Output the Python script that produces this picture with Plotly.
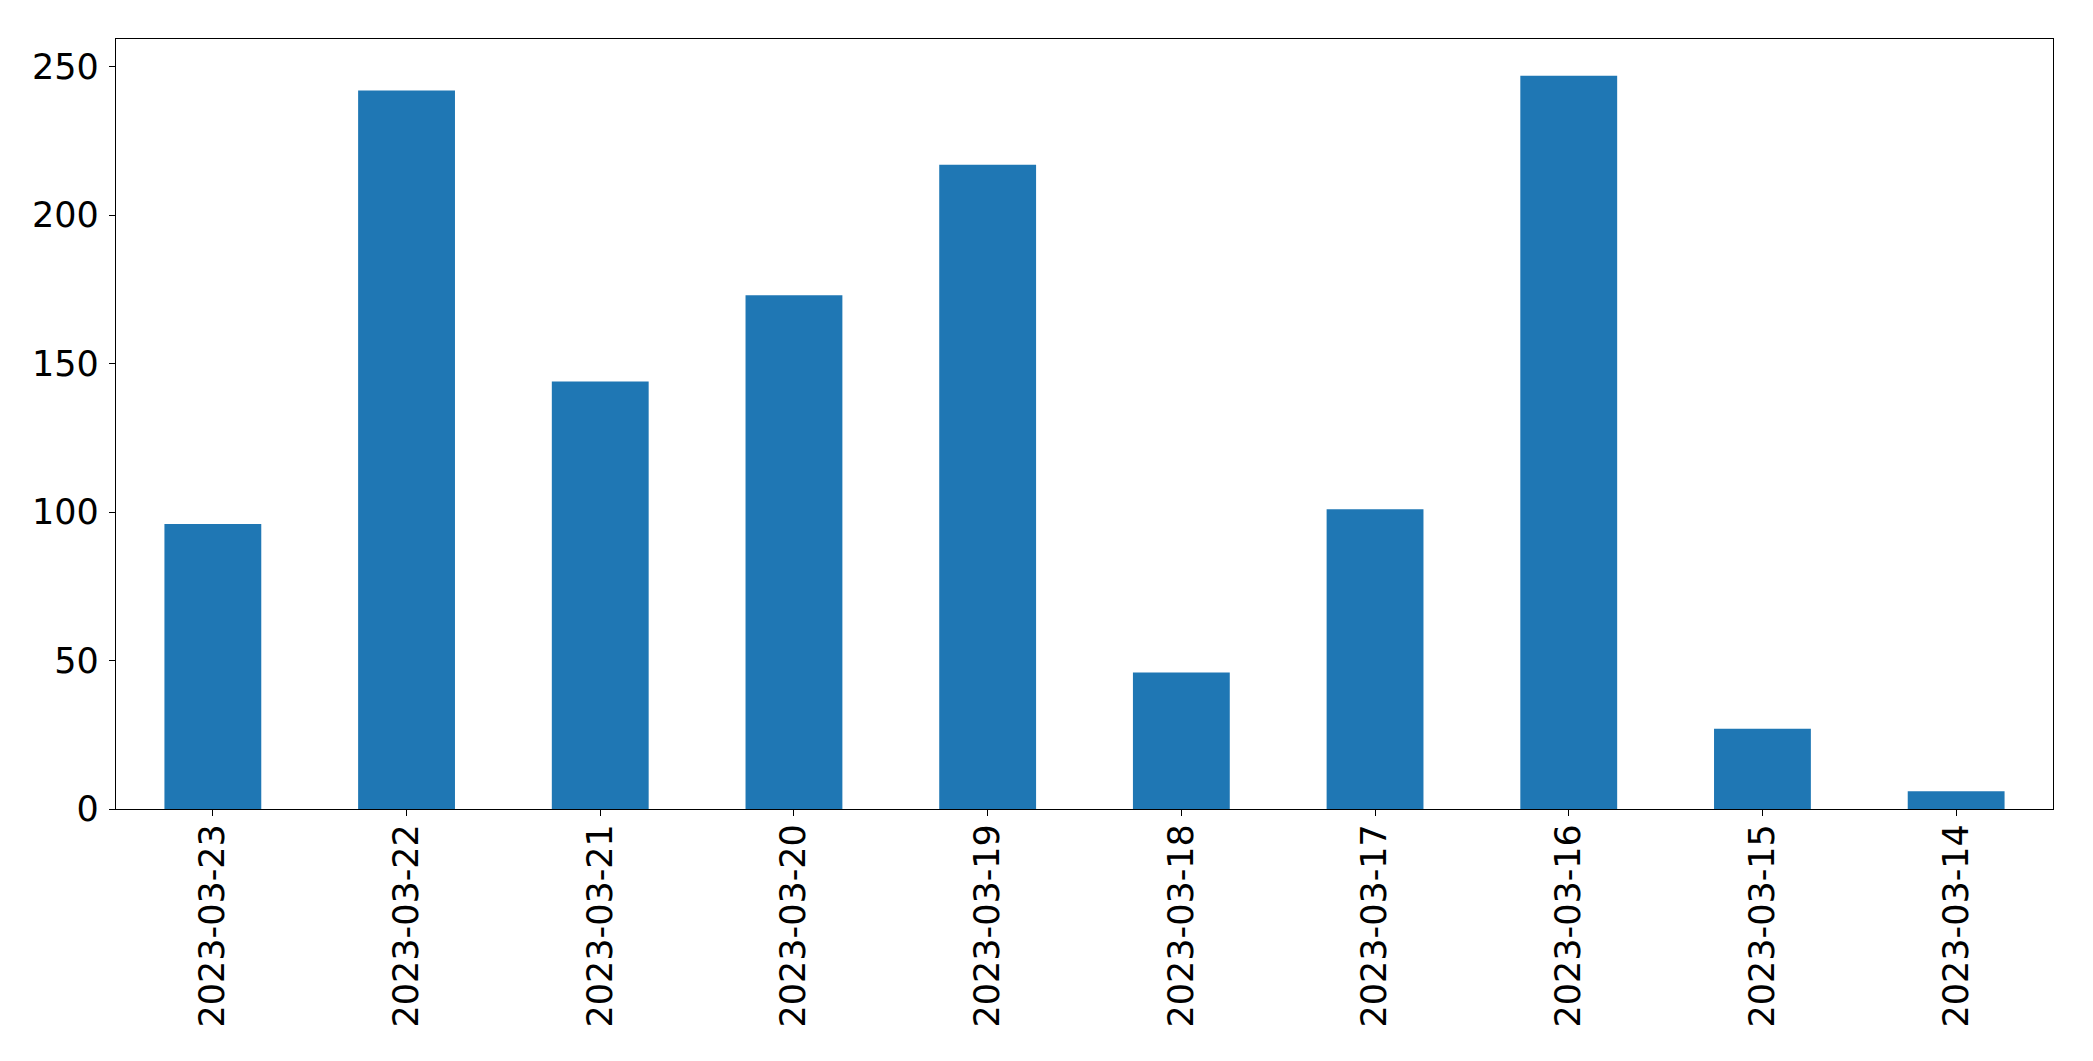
import plotly.graph_objects as go

dates = ["2023-03-23", "2023-03-22", "2023-03-21", "2023-03-20", "2023-03-19",
         "2023-03-18", "2023-03-17", "2023-03-16", "2023-03-15", "2023-03-14"]
counts = [96, 242, 144, 173, 217, 46, 101, 247, 27, 6]
y_ticks = [0, 50, 100, 150, 200, 250]

fig = go.Figure(go.Bar(x=dates, y=counts, marker=dict(color="#1f77b4", line=dict(width=0)),
                       width=0.5))

font = dict(family="DejaVu Sans", size=35, color="black")
fig.update_layout(
    width=2085, height=1053,
    margin=dict(l=108, r=40, t=31, b=252, pad=0),
    paper_bgcolor="white", plot_bgcolor="white",
    showlegend=False,
    font=font,
)
fig.update_xaxes(type="category", range=[-0.5, 9.5], tickangle=-90,
                 showline=True, linecolor="black", linewidth=1.3, mirror=True,
                 ticks="outside", ticklen=6, tickcolor="black", tickwidth=1.3,
                 ticklabelstandoff=-6,
                 showgrid=False, zeroline=False, tickfont=font, automargin=False)
fig.update_yaxes(range=[0, 259.35], tickvals=y_ticks,
                 showline=True, linecolor="black", linewidth=1.3, mirror=True,
                 ticks="outside", ticklen=6, tickcolor="black", tickwidth=1.3,
                 ticklabelstandoff=3,
                 showgrid=False, zeroline=False, tickfont=font, automargin=False)

fig.write_html("out.html")
